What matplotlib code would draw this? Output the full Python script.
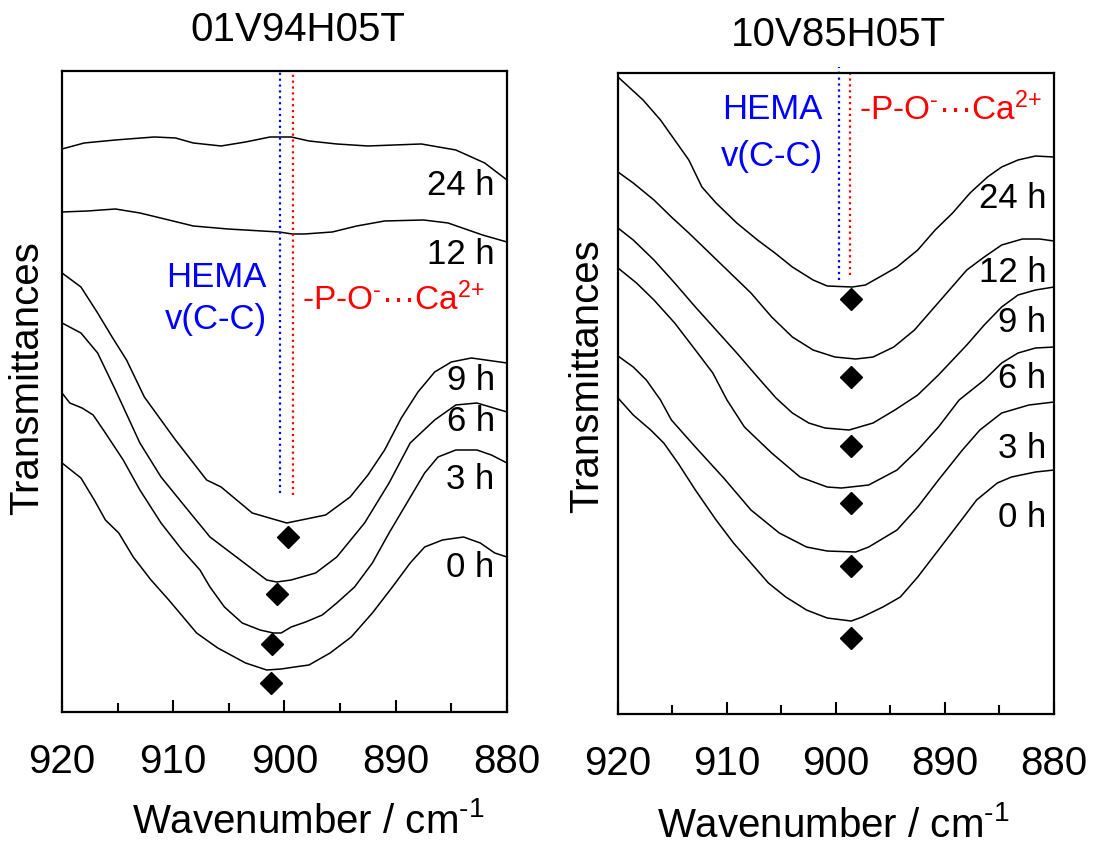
import matplotlib.pyplot as plt

plt.rcParams['font.family'] = ['Liberation Sans', 'DejaVu Sans']
plt.rcParams['mathtext.fontset'] = 'custom'
plt.rcParams['mathtext.rm'] = 'Liberation Sans'
plt.rcParams['mathtext.it'] = 'Liberation Sans'

# ---- 01V94H05T (left panel), transmittance in arbitrary units ----
L_24_wn = [920, 918.0, 915.2, 911.7, 909.8, 908.2, 905.7, 903.5, 901.3, 899.4, 897.8, 895.3, 892.5, 887.7, 884.6, 882.0, 880]
L_24_t = [563, 569, 572, 575, 574, 569, 566, 570, 575, 575, 571, 568, 566, 568, 562, 549, 532]
L_12_wn = [920, 917.7, 915.2, 913.0, 910.4, 908.2, 905.1, 900.5, 899.3, 898.2, 895.7, 893.5, 891.0, 887.5, 885.3, 882.2, 880]
L_12_t = [500, 501, 503, 499, 492, 486, 483, 480, 478, 478, 480, 486, 491, 492, 489, 477, 470]
L_9_wn = [920, 918.3, 916.8, 915.5, 914.2, 912.6, 909.8, 907.0, 905.7, 902.9, 899.8, 896.3, 894.1, 892.5, 891.0, 889.5, 888.0, 886.5, 885.0, 883.2, 880]
L_9_t = [439, 425, 399, 375, 352, 315, 272, 232, 225, 199, 189, 197, 215, 237, 262, 294, 320, 340, 350, 354, 349]
L_6_wn = [920, 918.3, 916.8, 915.2, 913.0, 911.1, 909.2, 906.7, 904.8, 901.6, 900.7, 899.4, 897.2, 895.3, 892.8, 890.6, 888.7, 886.5, 884.6, 882.7, 880]
L_6_t = [389, 379, 359, 322, 269, 235, 209, 175, 159, 132, 130, 132, 139, 155, 189, 229, 269, 292, 307, 309, 300]
L_3_wn = [920, 919.3, 918.2, 917.2, 916.1, 914.5, 913.0, 911.1, 909.2, 907.6, 906.7, 905.4, 903.8, 902.2, 901.0, 900.3, 899.4, 898.1, 896.6, 895.3, 893.7, 892.1, 890.6, 889.0, 887.4, 886.2, 884.6, 882.7, 881.4, 880]
L_3_t = [319, 309, 304, 297, 279, 252, 222, 189, 162, 142, 125, 105, 89, 82, 79, 79, 85, 90, 97, 109, 125, 149, 179, 209, 239, 255, 262, 262, 257, 249]
L_0_wn = [920, 918.3, 917.1, 916.1, 914.9, 913.6, 912.0, 910.4, 907.9, 906.0, 903.5, 901.6, 900.3, 899.1, 897.8, 895.9, 894.0, 892.1, 890.3, 888.7, 887.4, 885.8, 883.9, 882.4, 881.1, 880]
L_0_t = [249, 234, 212, 192, 179, 155, 132, 112, 79, 64, 49, 42, 43, 45, 47, 59, 75, 99, 125, 149, 165, 172, 175, 169, 159, 155]
L_peak_wn = [899.7, 900.7, 901.1, 901.2]
L_peak_t = [175, 118, 68, 29]
L_label_t = [526, 457, 331, 290, 232, 144]

# ---- 10V85H05T (right panel) ----
R_24_wn = [920, 918.9, 917.7, 916.1, 914.8, 913.5, 912.3, 911.0, 909.1, 907.2, 905.6, 904.0, 902.1, 900.8, 898.5, 897.3, 896.0, 894.4, 892.5, 890.9, 889.3, 887.7, 886.1, 884.8, 883.3, 881.7, 880]
R_24_t = [637, 626, 614, 594, 574, 554, 527, 511, 491, 474, 461, 447, 434, 428, 427, 429, 437, 447, 464, 484, 501, 521, 537, 547, 554, 558, 557]
R_12_wn = [920, 918.6, 916.7, 915.1, 913.5, 911.6, 909.7, 907.8, 905.9, 904.0, 902.1, 900.1, 898.2, 896.6, 894.7, 892.8, 891.2, 889.6, 888.0, 886.4, 884.8, 882.9, 881.3, 880]
R_12_t = [542, 531, 514, 497, 481, 461, 441, 421, 397, 377, 364, 357, 355, 357, 367, 384, 404, 424, 444, 457, 469, 475, 475, 473]
R_9_wn = [920, 918.6, 916.7, 914.8, 912.9, 911.0, 909.1, 907.2, 905.5, 904.0, 902.5, 901.0, 898.8, 896.6, 894.6, 892.5, 890.6, 889.3, 888.0, 886.4, 884.8, 883.3, 881.7, 880]
R_9_t = [486, 474, 454, 431, 407, 384, 361, 337, 316, 301, 291, 286, 284, 291, 304, 319, 339, 354, 369, 389, 407, 419, 424, 427]
R_6_wn = [920, 918.3, 916.7, 914.8, 912.9, 911.3, 910.0, 908.4, 905.9, 903.3, 900.8, 899.5, 897.0, 894.4, 892.5, 890.6, 888.7, 886.4, 884.8, 883.3, 881.7, 880]
R_6_t = [446, 431, 414, 391, 364, 341, 314, 287, 261, 237, 227, 226, 229, 244, 264, 287, 314, 334, 351, 361, 366, 367]
R_3_wn = [920, 918.6, 917.4, 916.1, 915.1, 912.9, 910.3, 907.8, 905.2, 902.7, 900.8, 898.2, 897.0, 894.4, 892.5, 890.6, 888.4, 886.8, 884.8, 882.3, 880]
R_3_t = [358, 347, 334, 314, 294, 267, 236, 204, 181, 167, 163, 162, 167, 184, 207, 234, 264, 284, 301, 309, 312]
R_0_wn = [920, 918.6, 917.0, 915.8, 914.5, 912.9, 911.0, 909.4, 907.8, 906.2, 904.6, 902.7, 900.8, 898.6, 897.6, 895.7, 894.1, 892.5, 890.6, 888.7, 887.1, 885.2, 883.9, 881.7, 880]
R_0_t = [316, 299, 284, 271, 251, 224, 194, 171, 151, 131, 117, 104, 96, 93, 97, 107, 117, 137, 164, 191, 214, 231, 237, 242, 244]
R_peak_wn = [898.6, 898.6, 898.6, 898.6, 898.6, 898.6]
R_peak_t = [415, 337, 268, 211, 148, 76]
R_label_t = [516, 442, 392, 336, 266, 197]

times = ['24 h', '12 h', '9 h', '6 h', '3 h', '0 h']

panels = [
    dict(title='01V94H05T', pos=[0.0567, 0.1564, 0.4067, 0.7595],
         curves=[(L_24_wn, L_24_t), (L_12_wn, L_12_t), (L_9_wn, L_9_t),
                 (L_6_wn, L_6_t), (L_3_wn, L_3_t), (L_0_wn, L_0_t)],
         peaks=(L_peak_wn, L_peak_t), labels=L_label_t, label_x=881.1,
         hema_x=900.4, hema_top=641, hema_bot=219,
         pof_x=899.2, pof_top=641, pof_bot=217,
         hema_txt=(901.6, 434, 392), pof_txt=(898.4, 412),
         title_xy=(0.272, 0.964), xlabel_xy=(0.282, 0.013), ylabel_xy=(0.025, 0.552)),
    dict(title='10V85H05T', pos=[0.5649, 0.1540, 0.3985, 0.7595],
         curves=[(R_24_wn, R_24_t), (R_12_wn, R_12_t), (R_9_wn, R_9_t),
                 (R_6_wn, R_6_t), (R_3_wn, R_3_t), (R_0_wn, R_0_t)],
         peaks=(R_peak_wn, R_peak_t), labels=R_label_t, label_x=880.7,
         hema_x=899.7, hema_top=647, hema_bot=434,
         pof_x=898.7, pof_top=641, pof_bot=439,
         hema_txt=(901.2, 605, 558), pof_txt=(897.9, 604),
         title_xy=(0.766, 0.9585), xlabel_xy=(0.762, 0.008), ylabel_xy=(0.537, 0.554)),
]

fig = plt.figure(figsize=(10.94, 8.44), dpi=100)

for p in panels:
    ax = fig.add_axes(p['pos'])
    for wn, t in p['curves']:
        ax.plot(wn, t, color='black', lw=1.1)
    ax.plot(p['peaks'][0], p['peaks'][1], 'D', color='black', ms=11, ls='none')
    ax.plot([p['hema_x'], p['hema_x']], [p['hema_bot'], p['hema_top']], ':', color='blue', lw=1.6, clip_on=False)
    ax.plot([p['pof_x'], p['pof_x']], [p['pof_bot'], p['pof_top']], ':', color='red', lw=1.6, clip_on=False)
    for txt, yy in zip(times, p['labels']):
        ax.text(p['label_x'], yy, txt, ha='right', va='center', fontsize=25)
    hx, hy1, hy2 = p['hema_txt']
    ax.text(hx, hy1, 'HEMA', color='blue', ha='right', va='center', fontsize=25)
    ax.text(hx, hy2, 'v(C-C)', color='blue', ha='right', va='center', fontsize=25)
    ax.text(p['pof_txt'][0], p['pof_txt'][1], r'-P-O$^{\text{-}}$···Ca$^{\text{2+}}$', color='red',
            ha='left', va='center', fontsize=24)

    ax.set_xlim(920, 880)
    ax.set_ylim(0, 641)
    ax.set_xticks([920, 910, 900, 890, 880])
    ax.set_xticks([915, 905, 895, 885], minor=True)
    ax.set_yticks([])
    ax.tick_params(axis='x', which='both', direction='in', labelsize=29, pad=22, width=1.5, top=False)
    ax.tick_params(axis='x', which='major', length=9)
    ax.tick_params(axis='x', which='minor', length=6.5)
    for s in ax.spines.values():
        s.set_linewidth(1.6)

    fig.text(p['title_xy'][0], p['title_xy'][1], p['title'], ha='center', va='center', fontsize=29)
    fig.text(p['xlabel_xy'][0], p['xlabel_xy'][1], r'Wavenumber / cm$^{\text{-1}}$', ha='center', va='baseline', fontsize=29)
    fig.text(p['ylabel_xy'][0], p['ylabel_xy'][1], 'Transmittances', rotation=90, ha='center', va='center', fontsize=29)

plt.savefig('out.png', dpi=100)
